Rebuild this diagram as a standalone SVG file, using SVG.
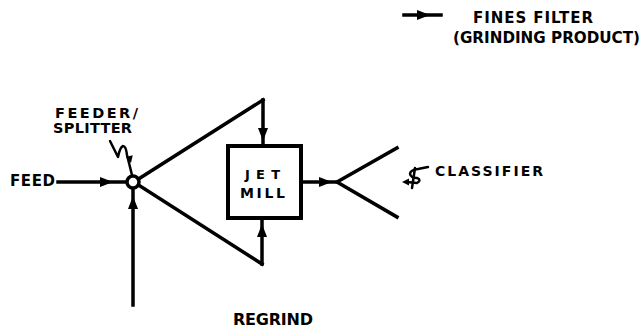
<svg xmlns="http://www.w3.org/2000/svg" width="643" height="328" viewBox="0 0 643 328">
<style>
.ln{stroke:#000;stroke-width:3.5;fill:none;stroke-linecap:square}
.sq{stroke:#000;stroke-width:2.5;fill:none;stroke-linecap:round;stroke-linejoin:round}
.t{font-family:"DejaVu Sans","Liberation Sans",Arial,sans-serif;font-weight:bold;fill:#000}
</style>
<defs>
<path id="ah" d="M0,0 L-13,-5 L-13,5 Z" fill="#000"/>
<path id="ahs" d="M0,0 L-7,-3.5 L-7,3.5 Z" fill="#000"/>
</defs>
<rect width="643" height="328" fill="#fff"/>

<g id="legend">
<line class="ln" x1="404" y1="15" x2="441" y2="15"/>
<use href="#ah" transform="translate(430,15)"/>
<text class="t" x="473" y="23" font-size="15" textLength="120" lengthAdjust="spacing">FINES FILTER</text>
<text class="t" x="453" y="43" font-size="15" textLength="187" lengthAdjust="spacingAndGlyphs">(GRINDING PRODUCT)</text>
</g>

<g id="connectors">
<!-- feed -->
<line class="ln" x1="58" y1="182" x2="125" y2="182"/>
<use href="#ah" transform="translate(113,182)"/>
<!-- regrind -->
<line class="ln" x1="133" y1="305" x2="133" y2="190"/>
<use href="#ah" transform="translate(133,196) rotate(-90)"/>
<!-- splitter to mill top -->
<line class="ln" x1="140" y1="178" x2="263" y2="100"/>
<line class="ln" x1="263" y1="100" x2="263" y2="144"/>
<use href="#ah" transform="translate(263,141) rotate(90)"/>
<!-- splitter to mill bottom -->
<line class="ln" x1="140" y1="186" x2="262" y2="264"/>
<line class="ln" x1="262" y1="264" x2="262" y2="220"/>
<use href="#ah" transform="translate(262,224) rotate(-90)"/>
<!-- mill to classifier -->
<line class="ln" x1="302" y1="182" x2="337" y2="182"/>
<use href="#ah" transform="translate(332,182)"/>
<!-- feeder leader -->
<path class="sq" d="M110,141 L118,157 Q120,147 123,146 Q126,146 127,155 L132,175"/>
<use href="#ahs" transform="translate(131,163) rotate(76)"/>
<!-- classifier leader -->
<path class="sq" d="M428,167 L418,169 Q410,170 410,174 Q411,178 417,178 Q422,180 417,183 L407,182"/>
<path class="sq" d="M415,168 L412,188"/>
<use href="#ahs" transform="translate(402,182) rotate(180)"/>
</g>

<g id="feed">
<text class="t" x="10" y="186" font-size="15" textLength="45" lengthAdjust="spacing">FEED</text>
</g>

<g id="feeder-splitter">
<circle cx="133" cy="182" r="6" fill="#fff" stroke="#000" stroke-width="3.5"/>
<text class="t" x="55" y="118" font-size="14.5" textLength="83" lengthAdjust="spacing">FEEDER/</text>
<text class="t" x="53" y="133" font-size="14.5" textLength="79" lengthAdjust="spacing">SPLITTER</text>
</g>

<g id="jet-mill">
<rect x="228" y="146" width="73" height="72" fill="#fff" stroke="#000" stroke-width="4"/>
<text class="t" x="245" y="179" font-size="13" textLength="35" lengthAdjust="spacing">JET</text>
<text class="t" x="240" y="198" font-size="14" textLength="45" lengthAdjust="spacing">MILL</text>
</g>

<g id="classifier">
<path class="ln" d="M397,148 L337,182 L397,217"/>
<text class="t" x="435" y="176" font-size="14" textLength="108" lengthAdjust="spacing">CLASSIFIER</text>
</g>

<g id="regrind">
<text class="t" x="233" y="325" font-size="16" textLength="80" lengthAdjust="spacing">REGRIND</text>
</g>
</svg>
